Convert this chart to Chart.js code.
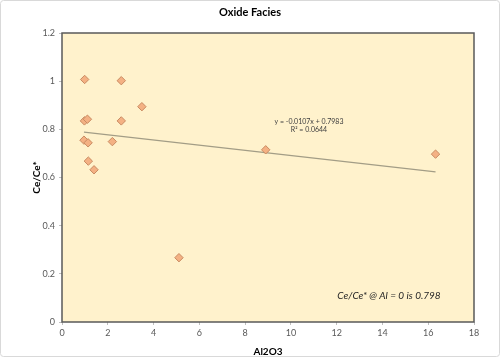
<!DOCTYPE html>
<html>
<head>
<meta charset="utf-8">
<script src="https://cdn.jsdelivr.net/npm/chart.js@4.4.1/dist/chart.umd.min.js"></script>
<style>
html,body{margin:0;padding:0;background:#fff;}
#wrap{width:500px;height:362px;position:relative;}
</style>
</head>
<body>
<div id="wrap"><canvas id="c" width="500" height="362"></canvas></div>
<script>
// ---- data ----
const chartTitle = "Oxide Facies";
const xTitle = "Al2O3";
const yTitle = "Ce/Ce*";
const al2o3 = [0.99, 2.59, 3.49, 0.98, 1.11, 2.59, 0.96, 1.14, 2.20, 1.15, 1.40, 5.11, 8.90, 16.32];
const ceRatio = [1.007, 1.002, 0.894, 0.835, 0.842, 0.835, 0.755, 0.744, 0.749, 0.668, 0.632, 0.267, 0.715, 0.697];
const trendSlope = -0.0107;
const trendIntercept = 0.7983;
const trendEquation = "y = -0.0107x + 0.7983";
const trendR2 = "R² = 0.0644";
const note = "Ce/Ce* @ Al = 0 is 0.798";
const xTicks = [0, 2, 4, 6, 8, 10, 12, 14, 16, 18];
const yTicks = [0, 0.2, 0.4, 0.6, 0.8, 1, 1.2];
const yTickLabels = ["0", "0.2", "0.4", "0.6", "0.8", "1", "1.2"];

const FONT = "Lato, 'Liberation Sans', sans-serif";

const xMin = Math.min(...al2o3), xMax = Math.max(...al2o3);
const trendPts = [xMin, xMax].map(x => ({x: x, y: trendSlope * x + trendIntercept}));
const scatterPts = al2o3.map((x, i) => ({x: x, y: ceRatio[i]}));

const decor = {
  id: 'decor',
  beforeDraw(chart) {
    const ctx = chart.ctx, a = chart.chartArea;
    ctx.save();
    ctx.fillStyle = '#ffffff';
    ctx.fillRect(0, 0, chart.width, chart.height);
    ctx.strokeStyle = '#d9d9d9';
    ctx.lineWidth = 1;
    ctx.beginPath();
    if (ctx.roundRect) ctx.roundRect(0.5, 0.5, chart.width - 1, chart.height - 6, 3); else ctx.rect(0.5, 0.5, chart.width - 1, chart.height - 6);
    ctx.stroke();
    ctx.fillStyle = '#fff2cc';
    ctx.fillRect(a.left, a.top, a.right - a.left, a.bottom - a.top);
    ctx.restore();
  },
  afterDatasetsDraw(chart) {
    const ctx = chart.ctx, a = chart.chartArea;
    ctx.save();
    ctx.strokeStyle = '#595959';
    ctx.lineWidth = 1.5;
    ctx.strokeRect(a.left, a.top, a.right - a.left, a.bottom - a.top);
    // title
    ctx.fillStyle = '#000';
    ctx.textAlign = 'center';
    ctx.textBaseline = 'middle';
    ctx.font = "bold 11px " + FONT;
    ctx.fillText(chartTitle, 250, 12);
    // trendline label
    ctx.fillStyle = '#404040';
    ctx.font = "7px " + FONT;
    ctx.fillText(trendEquation, 309, 122);
    ctx.fillText(trendR2, 309, 130);
    // note
    ctx.fillStyle = '#262626';
    ctx.font = "italic 10px " + FONT;
    ctx.fillText(note, 389, 296);
    ctx.restore();
  }
};

new Chart(document.getElementById('c'), {
  type: 'scatter',
  data: {
    datasets: [
      {
        label: 'Ce/Ce*',
        data: scatterPts,
        pointStyle: 'rectRot',
        pointRadius: 4.2,
        pointHoverRadius: 4.2,
        backgroundColor: '#f4b183',
        borderColor: '#c98b62',
        borderWidth: 1,
        order: 1
      },
      {
        label: 'Trend',
        type: 'line',
        data: trendPts,
        borderColor: '#a39d86',
        borderWidth: 1.2,
        pointRadius: 0,
        fill: false,
        order: 2
      }
    ]
  },
  options: {
    responsive: false,
    animation: false,
    events: [],
    layout: {padding: {left: 0, top: 33, right: 26, bottom: 0}},
    plugins: {legend: {display: false}, title: {display: false}, tooltip: {enabled: false}},
    scales: {
      x: {
        type: 'linear', min: 0, max: 18,
        afterBuildTicks(s) { s.ticks = xTicks.map(v => ({value: v})); },
        afterFit(s) { s.height = 40; },
        grid: {display: true, drawOnChartArea: false, drawTicks: true, tickLength: 3, color: '#bfbfbf'},
        border: {display: false},
        ticks: {color: '#595959', font: {family: FONT, size: 9}, padding: 3, maxRotation: 0, autoSkip: false},
        title: {display: true, text: xTitle, color: '#000', font: {family: FONT, size: 10, weight: 'bold'}, padding: {top: 0, bottom: 4}}
      },
      y: {
        type: 'linear', min: 0, max: 1.2,
        afterBuildTicks(s) { s.ticks = yTicks.map(v => ({value: v})); },
        afterFit(s) { s.width = 62; },
        grid: {display: true, drawOnChartArea: false, drawTicks: true, tickLength: 3, color: '#bfbfbf'},
        border: {display: false},
        ticks: {color: '#595959', font: {family: FONT, size: 9}, padding: 4, autoSkip: false,
          callback: (v) => { const i = yTicks.findIndex(t => Math.abs(t - v) < 1e-9); return i >= 0 ? yTickLabels[i] : ''; }},
        title: {display: true, text: yTitle, color: '#000', font: {family: FONT, size: 10, weight: 'bold'}, padding: {top: 31, bottom: 0}}
      }
    }
  },
  plugins: [decor]
});
</script>
</body>
</html>
